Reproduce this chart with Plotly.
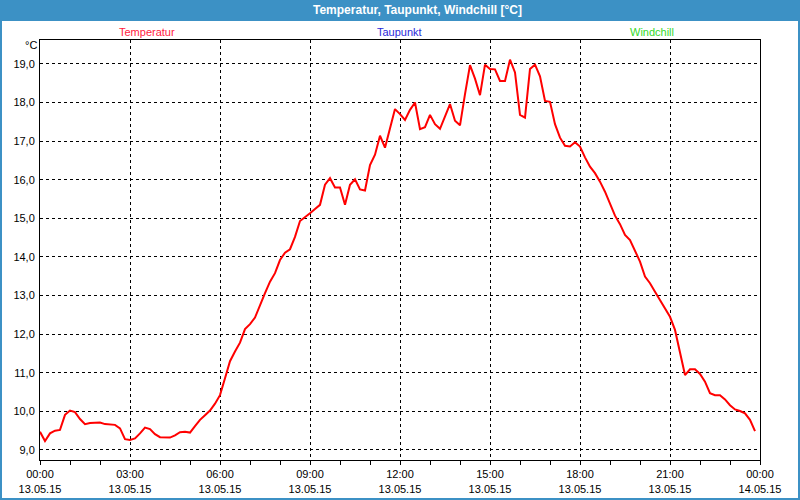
import pandas as pd
import plotly.graph_objects as go

# 10-minute readings, 13.05.15 00:00 .. 23:50
temperatur = [
    9.47, 9.23, 9.43, 9.50, 9.52, 9.91, 10.02, 9.98, 9.80, 9.67,
    9.70, 9.71, 9.71, 9.67, 9.66, 9.65, 9.56, 9.28, 9.26, 9.30,
    9.43, 9.58, 9.54, 9.41, 9.33, 9.32, 9.32, 9.38, 9.46, 9.47,
    9.45, 9.62, 9.78, 9.90, 10.02, 10.20, 10.42, 10.86, 11.30, 11.55,
    11.78, 12.13, 12.26, 12.43, 12.76, 13.06, 13.36, 13.58, 13.92, 14.11,
    14.20, 14.52, 14.93, 15.02, 15.13, 15.24, 15.35, 15.87, 16.04, 15.80,
    15.80, 15.35, 15.87, 16.01, 15.75, 15.72, 16.38, 16.65, 17.14, 16.83,
    17.33, 17.83, 17.70, 17.55, 17.81, 18.00, 17.31, 17.36, 17.68, 17.44,
    17.32, 17.65, 17.96, 17.53, 17.41, 18.22, 18.97, 18.62, 18.19, 18.98,
    18.87, 18.86, 18.56, 18.56, 19.11, 18.78, 17.68, 17.61, 18.87, 18.98,
    18.68, 18.04, 18.02, 17.44, 17.09, 16.88, 16.86, 16.97, 16.86, 16.58,
    16.34, 16.17, 15.95, 15.69, 15.39, 15.07, 14.85, 14.57, 14.44, 14.18,
    13.88, 13.49, 13.32, 13.10, 12.89, 12.67, 12.45, 12.11, 11.55, 10.94,
    11.09, 11.09, 10.97, 10.77, 10.47, 10.42, 10.42, 10.31, 10.16, 10.05,
    10.01, 9.95, 9.78, 9.49,
]
times = pd.date_range("2015-05-13 00:00", periods=len(temperatur), freq="10min")

x_tick_vals = pd.date_range("2015-05-13 00:00", "2015-05-14 00:00", freq="3h")
x_tick_text = [
    "00:00<br>13.05.15", "03:00<br>13.05.15", "06:00<br>13.05.15",
    "09:00<br>13.05.15", "12:00<br>13.05.15", "15:00<br>13.05.15",
    "18:00<br>13.05.15", "21:00<br>13.05.15", "00:00<br>14.05.15",
]
y_tick_vals = [9, 10, 11, 12, 13, 14, 15, 16, 17, 18, 19]
y_tick_text = ["9,0", "10,0", "11,0", "12,0", "13,0", "14,0", "15,0",
               "16,0", "17,0", "18,0", "19,0"]

legend_names = ["Temperatur", "Taupunkt", "Windchill"]
legend_colors = ["#FF1A40", "#2A2AD8", "#33D82A"]

BLUE = "#3C91C5"
FONT = "Liberation Sans"

# pixel helpers for the 800x500 canvas (plot area 40..760 x 40..460)
def px(x):
    return (x - 40) / 720.0

def py(y):
    return (460 - y) / 420.0

fig = go.Figure()
fig.add_trace(go.Scatter(
    x=times, y=temperatur, mode="lines",
    line=dict(color="#FF0000", width=2), showlegend=False, hoverinfo="x+y",
))

fig.update_layout(
    width=800, height=500,
    margin=dict(l=40, r=40, t=40, b=40, autoexpand=False),
    paper_bgcolor="white", plot_bgcolor="white",
    showlegend=False,
    font=dict(family=FONT, size=11, color="black"),
    xaxis=dict(
        range=[pd.Timestamp("2015-05-13 00:00"), pd.Timestamp("2015-05-14 00:00")],
        tickmode="array", tickvals=x_tick_vals, ticktext=x_tick_text,
        ticks="outside", ticklen=4, tickcolor="black",
        showgrid=True, gridcolor="black", griddash="3px,3px", gridwidth=1,
        showline=True, linecolor="black", linewidth=1, mirror=True,
        zeroline=False, automargin=False,
        minor=dict(dtick=3600000, ticks="outside", ticklen=4, tickcolor="black", showgrid=False),
        tickfont=dict(family=FONT, size=11, color="black"),
    ),
    yaxis=dict(
        range=[8.74, 19.62],
        tickmode="array", tickvals=y_tick_vals, ticktext=y_tick_text,
        ticks="", showgrid=True, gridcolor="black", griddash="3px,3px", gridwidth=1,
        showline=True, linecolor="black", linewidth=1, mirror=True,
        zeroline=False, ticklabelstandoff=2, automargin=False,
        tickfont=dict(family=FONT, size=11, color="black"),
    ),
    shapes=[
        dict(type="rect", xref="paper", yref="paper",
             x0=px(0), x1=px(800), y0=py(21), y1=py(0),
             fillcolor=BLUE, line=dict(width=0), layer="below"),
        dict(type="rect", xref="paper", yref="paper",
             x0=px(1), x1=px(799), y0=py(499), y1=py(1),
             fillcolor="rgba(0,0,0,0)", line=dict(color=BLUE, width=2), layer="above"),
    ],
)

annotations = [
    dict(text="<b>Temperatur, Taupunkt, Windchill [°C]</b>", x=px(417), y=py(10),
         font=dict(family=FONT, size=12, color="white")),
    dict(text="°C", x=px(31), y=py(45), font=dict(family=FONT, size=11, color="black")),
]
for name, color, cx in zip(legend_names, legend_colors, [147, 399, 652]):
    annotations.append(dict(text=name, x=px(cx), y=py(32),
                            font=dict(family=FONT, size=11, color=color)))
for a in annotations:
    a.update(xref="paper", yref="paper", showarrow=False,
             xanchor="center", yanchor="middle")
fig.update_layout(annotations=annotations)

fig.write_html(
    "out.html",
    config={"displayModeBar": False},
    post_script="document.body.style.margin='0px';document.body.style.overflow='hidden';",
)
